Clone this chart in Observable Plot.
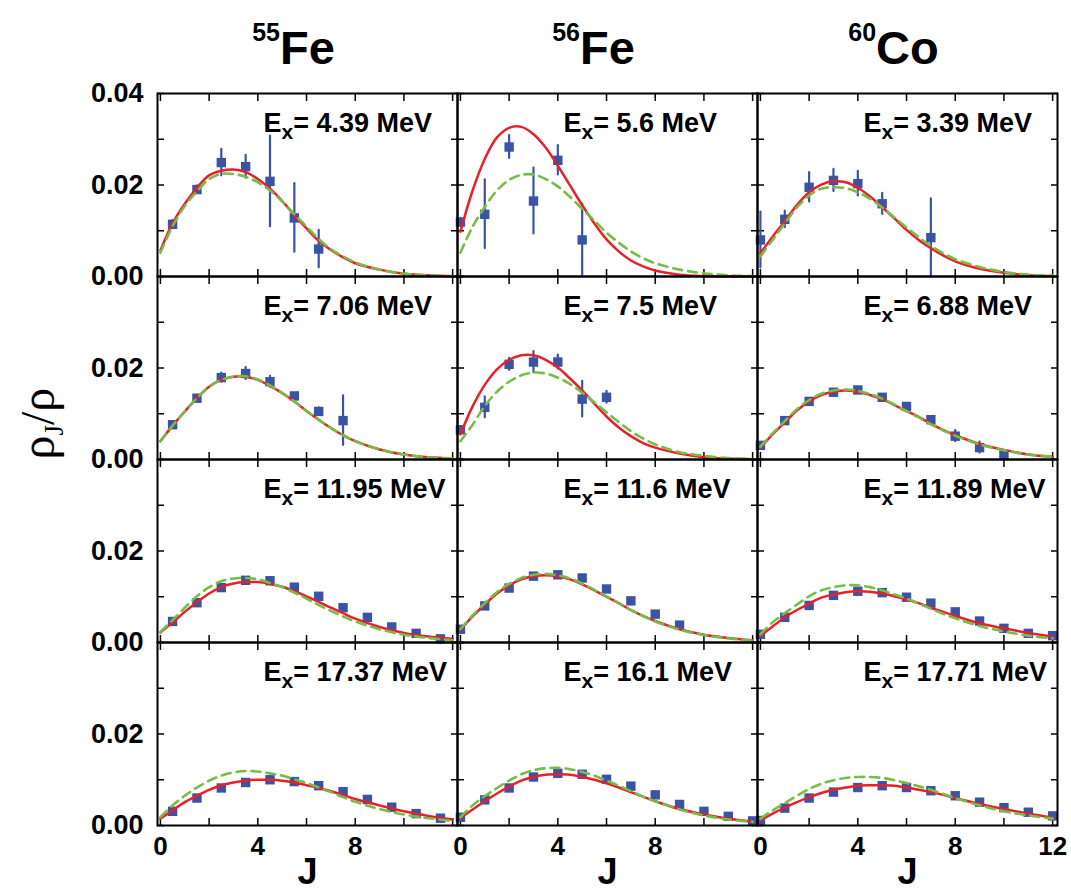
<!DOCTYPE html>
<html>
<head>
<meta charset="utf-8">
<script src="https://cdn.jsdelivr.net/npm/d3@7"></script>
<script src="https://cdn.jsdelivr.net/npm/@observablehq/plot@0.6"></script>
<style>
  html, body { margin: 0; padding: 0; background: #fff; }
  #chart svg { display: block; }
</style>
</head>
<body>
<div id="chart"></div>
<script>
// ---------- categories ----------
const nuclei = ["55Fe", "56Fe", "60Co"];
const massNumbers = ["55", "56", "60"];
const elements = ["Fe", "Fe", "Co"];
const rows = [0, 1, 2, 3];

// excitation energies (MeV) per nucleus, one per row
const ex55Fe = ["4.39", "7.06", "11.95", "17.37"];
const ex56Fe = ["5.6", "7.5", "11.6", "16.1"];
const ex60Co = ["3.39", "6.88", "11.89", "17.71"];

// ---------- tick labels ----------
const xTicks = [0, 2, 4, 6, 8, 10, 12];
const yTicks = [0, 0.01, 0.02, 0.03, 0.04];
const xTickLabels = [[0, 4, 8], [0, 4, 8], [0, 4, 8, 12]];
const yTickLabels = [[0, 0.02, 0.04], [0, 0.02], [0, 0.02], [0, 0.02]];

// ---------- experimental points ----------
const J55Fe = [
  [0.5, 1.5, 2.5, 3.5, 4.5, 5.5, 6.5],
  [0.5, 1.5, 2.5, 3.5, 4.5, 5.5, 6.5, 7.5],
  [0.5, 1.5, 2.5, 3.5, 4.5, 5.5, 6.5, 7.5, 8.5, 9.5, 10.5, 11.5],
  [0.5, 1.5, 2.5, 3.5, 4.5, 5.5, 6.5, 7.5, 8.5, 9.5, 10.5, 11.5]
];
const rho55Fe = [
  [0.0114, 0.0190, 0.0249, 0.0240, 0.0208, 0.0128, 0.0060],
  [0.0076, 0.0134, 0.0179, 0.0188, 0.0170, 0.0139, 0.0105, 0.0085],
  [0.0046, 0.0087, 0.0120, 0.0136, 0.0135, 0.0121, 0.0101, 0.0076, 0.0055, 0.0034, 0.0020, 0.0008],
  [0.0031, 0.0060, 0.0082, 0.0094, 0.0100, 0.0096, 0.0087, 0.0074, 0.0057, 0.0040, 0.0026, 0.0016]
];
const err55Fe = [
  [0.0008, 0.0008, 0.0029, 0.0025, 0.0099, 0.0075, 0.0041],
  [0, 0, 0.0010, 0.0013, 0.0012, 0, 0.0008, 0.0054],
  [0, 0, 0, 0, 0, 0, 0, 0, 0, 0, 0, 0],
  [0, 0, 0, 0, 0, 0, 0, 0, 0, 0, 0, 0]
];

const J56Fe = [
  [0, 1, 2, 3, 4, 5],
  [0, 1, 2, 3, 4, 5, 6],
  [0, 1, 2, 3, 4, 5, 6, 7, 8, 9],
  [0, 1, 2, 3, 4, 5, 6, 7, 8, 9, 10, 11, 12]
];
const rho56Fe = [
  [0.0119, 0.0136, 0.0283, 0.0165, 0.0254, 0.0080],
  [0.0065, 0.0114, 0.0208, 0.0213, 0.0213, 0.0132, 0.0136],
  [0.0029, 0.0080, 0.0119, 0.0145, 0.0148, 0.0141, 0.0117, 0.0091, 0.0062, 0.0038],
  [0.0018, 0.0056, 0.0082, 0.0106, 0.0114, 0.0112, 0.0101, 0.0086, 0.0067, 0.0046, 0.0031, 0.0020, 0.0010]
];
const err56Fe = [
  [0.0008, 0.0075, 0.0025, 0.0072, 0.0032, 0.0078],
  [0.0005, 0.0023, 0.0013, 0.0023, 0.0015, 0.0039, 0.0013],
  [0, 0, 0, 0, 0, 0, 0, 0, 0, 0],
  [0, 0, 0, 0, 0, 0, 0, 0, 0, 0, 0, 0, 0]
];

const J60Co = [
  [0, 1, 2, 3, 4, 5, 7],
  [0, 1, 2, 3, 4, 5, 6, 7, 8, 9, 10],
  [0, 1, 2, 3, 4, 5, 6, 7, 8, 9, 10, 11, 12],
  [0, 1, 2, 3, 4, 5, 6, 7, 8, 9, 10, 11, 12]
];
const rho60Co = [
  [0.0080, 0.0125, 0.0195, 0.0210, 0.0203, 0.0159, 0.0085],
  [0.0031, 0.0085, 0.0127, 0.0147, 0.0152, 0.0136, 0.0116, 0.0087, 0.0051, 0.0026, 0.0011],
  [0.0018, 0.0055, 0.0081, 0.0103, 0.0112, 0.0109, 0.0099, 0.0086, 0.0067, 0.0047, 0.0031, 0.0020, 0.0015],
  [0.0011, 0.0038, 0.0060, 0.0073, 0.0083, 0.0087, 0.0083, 0.0076, 0.0065, 0.0051, 0.0039, 0.0029, 0.0021]
];
const err60Co = [
  [0.0061, 0.0018, 0.0032, 0.0024, 0.0027, 0.0023, 0.0085],
  [0, 0, 0, 0, 0, 0, 0, 0, 0.0012, 0.0012, 0],
  [0, 0, 0, 0, 0, 0, 0, 0, 0, 0, 0, 0, 0],
  [0, 0, 0, 0, 0, 0, 0, 0, 0, 0, 0, 0, 0]
];

// ---------- model curves (at these J) ----------
const curveJ = [0, 0.5, 1, 1.5, 2, 2.5, 3, 3.5, 4, 4.5, 5, 5.5, 6, 6.5, 7, 7.5, 8, 9, 10, 11, 12];

const red55Fe = [
  [0.0057,0.0116,0.0159,0.0194,0.0221,0.0231,0.0234,0.0228,0.0213,0.0192,0.0165,0.0134,0.0105,0.0078,0.0058,0.0042,0.0029,0.0015,0.0006,0.00025,0.00005],
  [0.0040,0.0074,0.0105,0.0134,0.0159,0.0174,0.0181,0.0181,0.0174,0.0161,0.0145,0.0127,0.0106,0.0087,0.0069,0.0053,0.0040,0.0022,0.0011,0.0005,0.00025],
  [0.0022,0.0044,0.0067,0.0088,0.0107,0.0121,0.0129,0.0132,0.0132,0.0128,0.0122,0.0112,0.0101,0.0089,0.0076,0.0064,0.0052,0.0034,0.0021,0.0013,0.0008],
  [0.0015,0.0033,0.0051,0.0065,0.0078,0.0088,0.0094,0.0098,0.0100,0.0100,0.0098,0.0094,0.0088,0.0082,0.0075,0.0067,0.0058,0.0044,0.0031,0.0021,0.0013]
];
const green55Fe = [
  [0.0052,0.0110,0.0154,0.0186,0.0213,0.0224,0.0224,0.0218,0.0206,0.0188,0.0164,0.0136,0.0109,0.0082,0.0060,0.0044,0.0031,0.0015,0.0006,0.00025,0.00005],
  [0.0040,0.0074,0.0105,0.0134,0.0159,0.0174,0.0181,0.0182,0.0175,0.0162,0.0145,0.0127,0.0106,0.0087,0.0069,0.0053,0.0040,0.0022,0.0011,0.0005,0.00025],
  [0.0023,0.0049,0.0076,0.0101,0.0121,0.0134,0.0140,0.0141,0.0138,0.0130,0.0121,0.0109,0.0096,0.0082,0.0069,0.0057,0.0046,0.0029,0.0017,0.0010,0.0005],
  [0.0018,0.0044,0.0065,0.0083,0.0098,0.0109,0.0116,0.0119,0.0118,0.0114,0.0109,0.0101,0.0093,0.0083,0.0073,0.0062,0.0052,0.0036,0.0024,0.0016,0.0010]
];
const red56Fe = [
  [0.0098,0.0188,0.0257,0.0304,0.0325,0.0327,0.0311,0.0282,0.0242,0.0199,0.0156,0.0116,0.0081,0.0055,0.0035,0.0022,0.0013,0.0004,0.0001,0,0],
  [0.0055,0.0116,0.0163,0.0197,0.0218,0.0228,0.0228,0.0218,0.0201,0.0177,0.0151,0.0122,0.0094,0.0070,0.0051,0.0036,0.0026,0.0013,0.0005,0.0002,0.00004],
  [0.0028,0.0057,0.0083,0.0107,0.0125,0.0138,0.0145,0.0147,0.0145,0.0138,0.0127,0.0114,0.0100,0.0086,0.0071,0.0058,0.0047,0.0029,0.0017,0.0010,0.0005],
  [0.0016,0.0035,0.0053,0.0070,0.0085,0.0098,0.0106,0.0111,0.0112,0.0111,0.0106,0.0100,0.0092,0.0083,0.0073,0.0063,0.0053,0.0036,0.0024,0.0015,0.0009]
];
const green56Fe = [
  [0.0052,0.0109,0.0152,0.0188,0.0211,0.0222,0.0223,0.0213,0.0197,0.0174,0.0148,0.0122,0.0096,0.0074,0.0055,0.0040,0.0029,0.0015,0.0007,0.00025,0.0001],
  [0.0040,0.0076,0.0117,0.0148,0.0170,0.0184,0.0190,0.0188,0.0179,0.0165,0.0146,0.0125,0.0103,0.0082,0.0062,0.0046,0.0033,0.0016,0.0008,0.0003,0.0001],
  [0.0029,0.0059,0.0086,0.0110,0.0128,0.0141,0.0148,0.0150,0.0147,0.0140,0.0129,0.0115,0.0101,0.0086,0.0071,0.0058,0.0046,0.0028,0.0016,0.0009,0.0004],
  [0.0018,0.0044,0.0064,0.0082,0.0098,0.0112,0.0121,0.0125,0.0126,0.0123,0.0117,0.0109,0.0098,0.0087,0.0075,0.0063,0.0053,0.0035,0.0022,0.0013,0.0008]
];
const red60Co = [
  [0.0051,0.0087,0.0121,0.0156,0.0184,0.0201,0.0208,0.0206,0.0194,0.0175,0.0152,0.0127,0.0102,0.0080,0.0062,0.0046,0.0033,0.0017,0.0008,0.0003,0.0001],
  [0.0026,0.0055,0.0081,0.0107,0.0127,0.0141,0.0148,0.0151,0.0148,0.0141,0.0132,0.0119,0.0106,0.0093,0.0078,0.0065,0.0053,0.0034,0.0021,0.0011,0.0006],
  [0.0015,0.0035,0.0055,0.0071,0.0085,0.0098,0.0105,0.0110,0.0112,0.0111,0.0107,0.0101,0.0094,0.0086,0.0076,0.0067,0.0058,0.0042,0.0031,0.0021,0.0013],
  [0.0011,0.0026,0.0039,0.0051,0.0062,0.0071,0.0078,0.0083,0.0087,0.0088,0.0088,0.0087,0.0083,0.0078,0.0073,0.0067,0.0060,0.0047,0.0036,0.0026,0.0017]
];
const green60Co = [
  [0.0044,0.0080,0.0116,0.0151,0.0177,0.0192,0.0195,0.0193,0.0184,0.0170,0.0151,0.0129,0.0107,0.0086,0.0067,0.0051,0.0038,0.0021,0.0010,0.0004,0.0002],
  [0.0028,0.0057,0.0084,0.0110,0.0130,0.0144,0.0151,0.0153,0.0150,0.0143,0.0133,0.0120,0.0106,0.0092,0.0077,0.0064,0.0052,0.0033,0.0020,0.0011,0.0006],
  [0.0018,0.0044,0.0064,0.0083,0.0101,0.0114,0.0121,0.0125,0.0125,0.0121,0.0114,0.0105,0.0096,0.0085,0.0074,0.0063,0.0053,0.0036,0.0024,0.0015,0.0009],
  [0.0015,0.0033,0.0049,0.0065,0.0080,0.0091,0.0099,0.0104,0.0106,0.0106,0.0104,0.0099,0.0093,0.0086,0.0078,0.0069,0.0060,0.0044,0.0031,0.0022,0.0015]
];

// ---------- build tables ----------
const energies = [ex55Fe, ex56Fe, ex60Co];
const expJ = [J55Fe, J56Fe, J60Co];
const expRho = [rho55Fe, rho56Fe, rho60Co];
const expErr = [err55Fe, err56Fe, err60Co];
const redFit = [red55Fe, red56Fe, red60Co];
const greenFit = [green55Fe, green56Fe, green60Co];

const panels = [], points = [], curves = [];
nuclei.forEach((n, c) => rows.forEach(r => {
  panels.push({n, r, e: energies[c][r]});
  expJ[c][r].forEach((J, i) => points.push({n, r, J, rho: expRho[c][r][i], err: expErr[c][r][i]}));
  curveJ.forEach((J, i) => curves.push({n, r, J, red: redFit[c][r][i], green: greenFit[c][r][i]}));
}));
const titles = nuclei.map((n, c) => ({n, r: 0, t: massNumbers[c] + "|" + elements[c]}));
const xLab = nuclei.flatMap((n, c) => xTickLabels[c].map(v => ({n, r: 3, v})));
const yLab = rows.flatMap(r => yTickLabels[r].map(v => ({n: nuclei[0], r, v})));
const bottomCols = nuclei.map(n => ({n, r: 3}));

const BLUE = "#3a53a4", RED = "#e8202a", GREEN = "#77bd45";
const F = {fx: "n", fy: "r"};

const chart = Plot.plot({
  width: 1071,
  height: 891,
  marginLeft: 157,
  marginRight: 14,
  marginTop: 91,
  marginBottom: 65,
  style: {fontFamily: "'Liberation Sans', Arial, sans-serif", background: "#fff", color: "#000", overflow: "visible"},
  x: {domain: [-0.12, 12.2]},
  y: {domain: [0, 0.04]},
  fx: {domain: nuclei, padding: 0, axis: null},
  fy: {domain: rows, padding: 0, axis: null},
  marks: [
    // inward ticks on all four sides of every panel
    Plot.axisX(xTicks, {anchor: "bottom", tickSize: -7, tickFormat: () => "", label: null, facetAnchor: null, strokeWidth: 1.5}),
    Plot.axisX(xTicks, {anchor: "top", tickSize: -7, tickFormat: () => "", label: null, facetAnchor: null, strokeWidth: 1.5}),
    Plot.axisY(yTicks, {anchor: "left", tickSize: -7, tickFormat: () => "", label: null, facetAnchor: null, strokeWidth: 1.5}),
    Plot.axisY(yTicks, {anchor: "right", tickSize: -7, tickFormat: () => "", label: null, facetAnchor: null, strokeWidth: 1.5}),
    // error bars and points
    Plot.ruleX(points.filter(d => d.err > 0), {...F, x: "J", y1: d => d.rho - d.err, y2: d => d.rho + d.err, stroke: BLUE, strokeWidth: 2.2, strokeLinecap: "round"}),
    Plot.dot(points, {...F, x: "J", y: "rho", symbol: "square", r: 5.3, fill: BLUE}),
    // model curves
    Plot.line(curves, {...F, x: "J", y: "red", stroke: RED, strokeWidth: 2.5, curve: "catmull-rom"}),
    Plot.line(curves, {...F, x: "J", y: "green", stroke: GREEN, strokeWidth: 2.6, strokeDasharray: "9,6", curve: "catmull-rom"}),
    Plot.frame({stroke: "#000", strokeWidth: 2}),
    // panel labels
    Plot.text(panels, {...F, text: d => "E_x= " + d.e + " MeV", frameAnchor: "top-left", dx: 106, dy: 38, textAnchor: "start", lineAnchor: "bottom", fontSize: 27, fontWeight: "bold", fill: "#000"}),
    // tick labels
    Plot.text(yLab, {...F, y: "v", text: d => d3.format(".2f")(d.v), frameAnchor: "left", dx: -14, textAnchor: "end", lineAnchor: "middle", fontSize: 27, fontWeight: "bold", fill: "#000"}),
    Plot.text(xLab, {...F, x: "v", text: d => String(d.v), frameAnchor: "bottom", dy: 11, lineAnchor: "top", fontSize: 26, fontWeight: "bold", fill: "#000"}),
    // axis titles
    Plot.text(bottomCols, {...F, text: () => "J", frameAnchor: "bottom", dy: 58, lineAnchor: "bottom", fontSize: 36, fontWeight: "bold", fill: "#000"}),
    Plot.text([{n: nuclei[0], r: 1}], {...F, text: () => "ρ_J/ρ", frameAnchor: "bottom-left", dx: -119, rotate: -90, lineAnchor: "middle", fontSize: 48, fontFamily: "'Liberation Serif', 'DejaVu Serif', serif", fill: "#000"}),
    // column titles
    Plot.text(titles, {...F, text: "t", frameAnchor: "top", dx: -14, dy: -30, lineAnchor: "bottom", fontSize: 47, fontWeight: "bold", fill: "#000"})
  ]
});

// rich text: sub/superscripts
d3.select(chart).selectAll("text").each(function () {
  const s = this.textContent;
  const el = d3.select(this);
  if (s.startsWith("E_x")) {
    el.text(null);
    el.append("tspan").text("E");
    el.append("tspan").attr("font-size", 21).attr("dy", 7).text("x");
    el.append("tspan").attr("dy", -7).text(s.slice(3));
  } else if (s.includes("|")) {
    const [a, b] = s.split("|");
    el.text(null);
    el.append("tspan").attr("font-size", 25).attr("dy", -23).text(a);
    el.append("tspan").attr("dy", 23).text(b);
  } else if (s === "ρ_J/ρ") {
    el.text(null);
    el.append("tspan").text("ρ");
    el.append("tspan").attr("font-size", 27).attr("dy", 9).text("J");
    el.append("tspan").attr("dy", -9).text("/ρ");
  }
});

document.getElementById("chart").appendChild(chart);
</script>
</body>
</html>
